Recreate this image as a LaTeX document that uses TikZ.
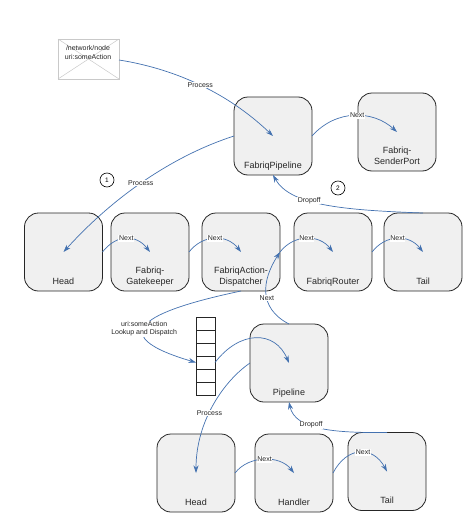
\documentclass[tikz,border=0pt]{standalone}
\usepackage{fontspec}
\setmainfont{Liberation Sans}
\usetikzlibrary{arrows.meta, positioning}
\definecolor{flowblue}{HTML}{4472B0}
\definecolor{boxgrey}{HTML}{F0F0F0}
\definecolor{mailgrey}{HTML}{C9C9C9}
\tikzset{
  box/.style={draw=black!85, line width=0.8pt, fill=boxgrey, rounded corners=14pt, minimum width=78pt, minimum height=78pt, outer sep=0pt},
  boxtext/.style={font=\fontsize{9}{10.5}\selectfont, text=black!85, align=center, inner sep=0pt, text depth=0pt},
  flow/.style={draw=flowblue, line width=0.7pt, -{Stealth[length=7.5pt,width=5pt]}},
  edgetext/.style={font=\fontsize{7}{8.5}\selectfont, text=black!85, fill=white, align=center, inner sep=0.6pt},
  cell/.style={draw=black!85, line width=0.7pt, fill=white, minimum width=19pt, minimum height=13pt, outer sep=0pt},
  stepmark/.style={draw=black, circle, line width=0.6pt, minimum size=14pt, inner sep=0pt, font=\fontsize{6.5}{7}\selectfont}
}
\begin{document}
\begin{tikzpicture}[x=1pt, y=-1pt]
  \useasboundingbox (0,0) rectangle (474,527);
  % top row
  \node[box] (fabpipe) at (273,136) {};
  \node[box] (sender) at (397,132) {};
  % middle row
  \node[box] (head) at (63.5,252) {};
  \node[box] (gate) at (150,252) {};
  \node[box] (disp) at (241,252) {};
  \node[box] (router) at (333,252) {};
  \node[box] (tail) at (423,252) {};
  % lower pipeline
  \node[box] (pipe) at (289,363) {};
  \node[box] (headb) at (196,473) {};
  \node[box] (handler) at (294,473) {};
  \node[box] (tailb) at (387,471.5) {};
  \foreach \n/\t in {fabpipe/FabriqPipeline, sender/{Fabriq-\\SenderPort}, head/Head, gate/{Fabriq-\\Gatekeeper},
      disp/{FabriqAction-\\Dispatcher}, router/FabriqRouter, tail/Tail, pipe/Pipeline, headb/Head, handler/Handler, tailb/Tail}
    \node[boxtext, above=6.5pt of \n.south] (\n text) {\t};

  % message
  \node[draw=mailgrey, line width=0.8pt, minimum width=61pt, minimum height=40pt, outer sep=0pt] (mail) at (88.5,59) {};
  \draw[mailgrey, line width=0.5pt] (mail.north west) -- (mail.center) -- (mail.north east)
    (mail.south west) -- (mail.center) -- (mail.south east);
  \node[font=\fontsize{7}{9}\selectfont, text=black!85, align=center, inner sep=0pt] (mailtext) at (88,52) {/network/node\\uri:someAction};

  % queue
  \foreach \i in {1,...,6}
    \node[cell] (cell\i) at (205.5,{310.5+13*\i}) {};

  \node[stepmark] (one) at (107,180) {1};
  \node[stepmark] (two) at (338,188) {2};

  % process
  \draw[flow] (mail.east |- 0,60) .. controls (170,68) and (225,90) .. (fabpipe.center)
    node[edgetext, pos=.52] (proc) {Process};
  \draw[flow] (fabpipe.west) .. controls (175,155) and (115,195) .. (head.center)
    node[edgetext, pos=.53] (procb) {Process};
  \draw[flow] (pipe.west) .. controls (225,380) and (196,420) .. (headb.center)
    node[edgetext, pos=.57] (procc) {Process};

  % next
  \foreach \a/\b in {head/gate, gate/disp, disp/router, router/tail, headb/handler}
    \draw[flow] (\a.east) .. controls +(14,-18) and +(-14,-18) .. (\b.center)
      node[edgetext, pos=.5] (\a next) {Next};
  \draw[flow] (fabpipe.east) .. controls +(24,-27) and +(-24,-22) .. (sender.center)
    node[edgetext, pos=.53] (fabnext) {Next};
  \draw[flow] (handler.east) .. controls +(14,-27) and +(-14,-26) .. (tailb.center)
    node[edgetext, pos=.55] (handnext) {Next};
  \draw[flow] (pipe.north) .. controls (258,308) and (262,280) .. (disp.east)
    node[edgetext, pos=.42] (pipenext) {Next};

  % dropoff
  \draw[flow] (tail.north) .. controls (340,210) and (290,205) .. (fabpipe.south)
    node[edgetext, pos=.6] (drop) {Dropoff};
  \draw[flow] (tailb.north) .. controls (335,433) and (295,430) .. (pipe.south)
    node[edgetext, pos=.6] (dropb) {Dropoff};

  % dispatch
  \draw[flow] (disp.south) .. controls (175,305) and (85,330) .. (cell4.west)
    node[edgetext, pos=.62] (lookup) {uri:someAction\\Lookup and Dispatch};
  \draw[flow] (cell4.east) .. controls (240,330) and (275,330) .. (pipe.center);
\end{tikzpicture}
\end{document}
